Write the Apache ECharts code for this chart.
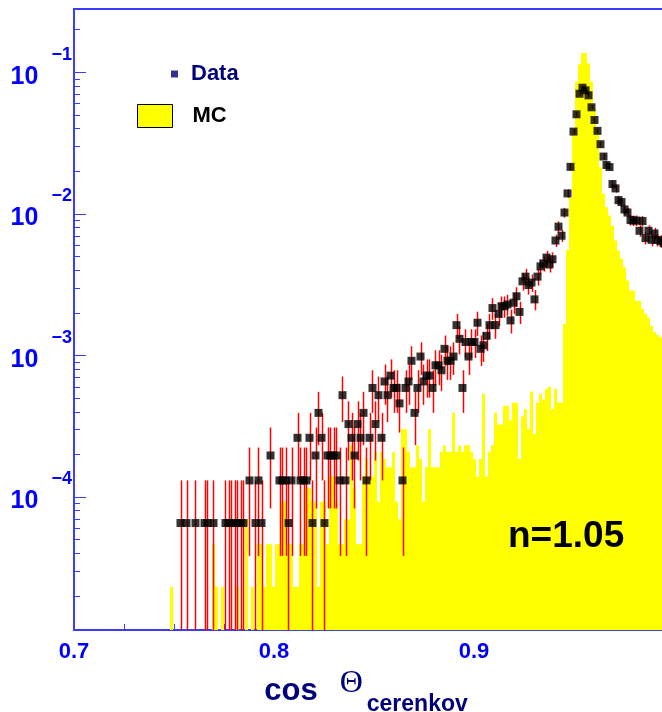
<!DOCTYPE html>
<html><head><meta charset="utf-8">
<script src="https://cdn.jsdelivr.net/npm/echarts@6/dist/echarts.min.js"></script>
<style>html,body{margin:0;padding:0;background:#fff}#c{width:662px;height:712px}</style>
</head><body><div id="c"></div>
<script>
// Histogram binning (cos theta), counts, first entry = bin 30
const xMin = 0.7, xMax = 1.0, binWidth = 0.0015, firstBin = 30;
const dataCounts = [
0,0,0,0,0,1,0,1,0,0,
1,0,0,1,1,0,1,0,0,0,
1,1,1,1,1,1,1,0,2,0,
1,2,1,0,0,3,0,0,2,2,
2,1,2,0,4,2,2,2,4,1,
3,6,4,1,3,3,3,3,2,8,
2,5,4,3,5,4,6,2,4,9,
5,8,4,10,8,11,9,9,7,2,
9,10,14,6,9,15,10,11,11,9,
13,13,12,17,14,14,15,25,20,9,
19,15,19,19,26,17,18,21,25,33,
25,30,34,34,35,27,36,40,31,51,
55,48,50,38,55,65,68,75,67,73,
99,124,107,156,213,328,582,771,1077,1188,
1138,1050,864,703,589,474,388,338,327,248,
231,191,185,164,156,138,137,137,116,136,
103,116,100,111,100,98,95];
const mcCounts = [
0,0,1,0,0,0,0,0,0,0,
0,0,0,0,0,0,2,1,0,1,
0,0,0,0,1,0,0,3,0,1,
0,2,2,1,2,2,1,2,2,4,
4,2,2,1,1,2,2,5,5,4,
4,1,4,4,2,6,6,4,2,2,
3,3,10,5,2,2,6,8,6,6,
9,4,9,8,7,7,9,4,3,13,
13,9,7,7,10,8,4,7,13,7,
7,7,9,10,9,9,17,9,10,9,
10,10,9,8,6,8,23,6,9,10,
17,14,14,19,19,15,20,20,8,16,
18,13,24,12,20,23,21,25,26,18,
25,20,20,72,240,560,1660,3700,4900,5900,
5900,5000,3700,2400,1650,920,600,480,420,356,
280,237,208,180,146,124,124,105,105,92,
85,80,70,63,60,58,60];
// normalisation of one entry (value of a single count)
const dataUnit = 6.55e-5, mcUnit = 2.32e-5;
const yMin = 1.15e-5, yMax = 0.28;
const yMajorTicks = [1e-4, 1e-3, 1e-2, 1e-1];
const yMinorTicks = [2e-5,3e-5,4e-5,5e-5,6e-5,7e-5,8e-5,9e-5,
  2e-4,3e-4,4e-4,5e-4,6e-4,7e-4,8e-4,9e-4,
  2e-3,3e-3,4e-3,5e-3,6e-3,7e-3,8e-3,9e-3,
  2e-2,3e-2,4e-2,5e-2,6e-2,7e-2,8e-2,9e-2, 2e-1];
const xTickLabels = ['0.7', '0.8', '0.9'];

const binCenter = i => xMin + (firstBin + i + 0.5) * binWidth;
const dataPts = [], errBars = [], mcBars = [];
dataCounts.forEach((n, i) => {
  if (n > 0) {
    const x = binCenter(i), s = Math.sqrt(n);
    dataPts.push([x, n * dataUnit]);
    errBars.push([x, Math.max((n - s) * dataUnit, yMin), (n + s) * dataUnit]);
  }
});
mcCounts.forEach((n, i) => { if (n > 0) mcBars.push([binCenter(i), n * mcUnit]); });

const BLUE = '#0000ff', AXIS = '#3c3cff', NAVY = '#00007a';
const FONT = 'Liberation Sans';
const chart = echarts.init(document.getElementById('c'), null, {renderer: 'canvas'});
chart.setOption({
  animation: false,
  backgroundColor: '#fff',
  grid: {left: 74, top: 9, width: 600, height: 621, show: true, borderColor: AXIS, borderWidth: 2,
    backgroundColor: 'transparent', containLabel: false, outerBoundsMode: 'none'},
  title: {text: 'n=1.05', left: 503, top: 513,
    textStyle: {fontFamily: FONT, fontWeight: 'bold', fontSize: 37, color: '#000'}},
  legend: [
    {data: [{name: 'Data', icon: 'rect', itemStyle: {color: NAVY}}], left: 171, top: 63, padding: 0,
      itemWidth: 7, itemHeight: 7, selectedMode: false,
      textStyle: {fontFamily: FONT, fontWeight: 'bold', fontSize: 22, color: NAVY, padding: [0, 0, 0, 8]}},
    {data: [{name: 'MC', icon: 'rect', itemStyle: {color: '#ffff00', borderColor: '#000', borderWidth: 1}}], left: 137, top: 104, padding: 0,
      itemWidth: 35, itemHeight: 23, selectedMode: false,
      textStyle: {fontFamily: FONT, fontWeight: 'bold', fontSize: 22, color: '#000', padding: [3, 0, 0, 15]}}
  ],
  xAxis: {
    type: 'value', min: xMin, max: xMax, interval: 0.1,
    name: '{a|cos}{b|Θ}{c|cerenkov}', nameLocation: 'middle', nameGap: 37,
    nameTextStyle: {padding: [0, 16, 0, 0], rich: {
      a: {fontFamily: FONT, fontWeight: 'bold', fontSize: 31, color: NAVY, lineHeight: 48, verticalAlign: 'middle'},
      b: {fontFamily: 'Liberation Serif', fontSize: 32, color: NAVY, lineHeight: 28, verticalAlign: 'top', padding: [0, 4, 0, 22]},
      c: {fontFamily: FONT, fontWeight: 'bold', fontSize: 23, color: NAVY, lineHeight: 20, verticalAlign: 'bottom'}
    }},
    axisLine: {onZero: false, lineStyle: {color: AXIS, width: 2}},
    axisTick: {inside: true, length: 12, lineStyle: {color: AXIS, width: 1}},
    minorTick: {show: true, splitNumber: 4, length: 6, lineStyle: {color: AXIS, width: 1}},
    splitLine: {show: false},
    axisLabel: {margin: 11, fontFamily: FONT, fontWeight: 'bold', fontSize: 22, color: BLUE,
      formatter: v => { const t = v.toFixed(1); return xTickLabels.indexOf(t) >= 0 ? t : ''; }}
  },
  yAxis: [
    {type: 'log', min: yMin, max: yMax, position: 'left',
      axisLine: {show: true, onZero: false, lineStyle: {color: AXIS, width: 2}},
      axisTick: {inside: true, length: 12, customValues: yMajorTicks, lineStyle: {color: AXIS, width: 1}},
      splitLine: {show: false},
      axisLabel: {customValues: yMajorTicks, margin: 2, padding: [0, 0, 11, 0],
        formatter: v => '{e|−' + Math.round(-Math.log10(v)) + '}\n{b|10}',
        rich: {
          e: {fontFamily: FONT, fontWeight: 'bold', fontSize: 18, color: BLUE, lineHeight: 20, align: 'right', padding: [0, 0, 0, 41]},
          b: {fontFamily: FONT, fontWeight: 'bold', fontSize: 25, color: BLUE, lineHeight: 24, align: 'left'}
        }}},
    {type: 'log', min: yMin, max: yMax, position: 'left',
      axisLine: {show: false},
      axisTick: {inside: true, length: 6, customValues: yMinorTicks, lineStyle: {color: AXIS, width: 1}},
      splitLine: {show: false}, axisLabel: {show: false}}
  ],
  series: [
    {name: 'MC', type: 'custom', yAxisIndex: 0, data: mcBars, clip: true, z: 1,
      itemStyle: {color: '#ffff00'},
      renderItem: (params, api) => {
        const xc = api.value(0), v = api.value(1);
        const p0 = api.coord([xc - binWidth / 2, v]);
        const p1 = api.coord([xc + binWidth / 2, yMin]);
        const x0 = Math.round(p0[0]), x1 = Math.round(p1[0]);
        return {type: 'rect', shape: {x: x0, y: p0[1], width: x1 - x0, height: p1[1] - p0[1]},
          style: {fill: '#ffff00'}};
      }},
    {name: 'err', type: 'custom', data: errBars, clip: true, z: 2,
      itemStyle: {color: '#ff0000'},
      renderItem: (params, api) => {
        const xc = api.value(0);
        const a = api.coord([xc, api.value(1)]), b = api.coord([xc, api.value(2)]);
        const x = Math.round(a[0]) + 0.5;
        return {type: 'line', shape: {x1: x, y1: a[1], x2: x, y2: b[1]},
          style: {stroke: '#ff0000', lineWidth: 1.5}};
      }},
    {name: 'Data', type: 'scatter', data: dataPts, symbol: 'rect', symbolSize: 8, z: 3,
      itemStyle: {color: '#000'}}
  ]
});
</script></body></html>
